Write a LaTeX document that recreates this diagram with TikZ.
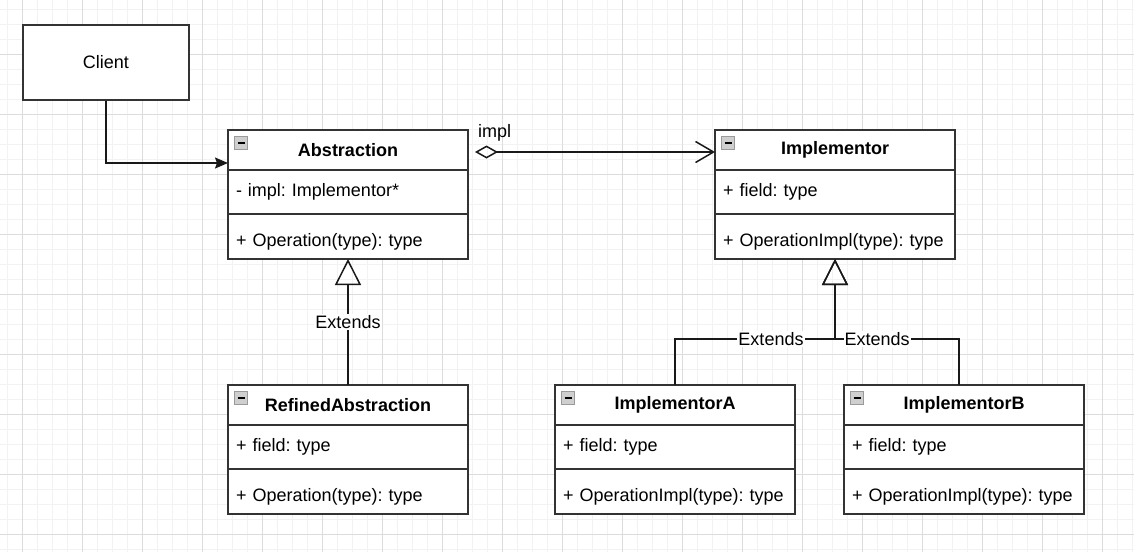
\documentclass[tikz,border=0pt]{standalone}
\usepackage{fontspec}
\setmainfont{Liberation Sans}
\usetikzlibrary{arrows.meta,positioning}
\definecolor{boxline}{HTML}{333333}
\definecolor{gridmajor}{HTML}{DCDCDC}
\definecolor{gridminor}{HTML}{F2F2F2}
\definecolor{iconfill}{HTML}{CFCFCF}
\definecolor{iconline}{HTML}{9A9A9A}
\frenchspacing

\begin{document}
\begin{tikzpicture}[x=1pt,y=-1pt,
  every node/.style={font=\fontsize{18}{22}\selectfont},
  umlhead/.style={draw=boxline,line width=1.5pt,fill=white,minimum width=240pt,minimum height=40pt,
    inner sep=0pt,outer sep=0pt,font=\fontsize{18}{22}\selectfont\bfseries},
  umlpart/.style={draw=boxline,line width=1.5pt,fill=white,text width=224pt,inner xsep=8pt,
    inner ysep=0pt,outer sep=0pt,align=left,minimum height=44pt,text height=13pt,text depth=4pt},
  umlops/.style={umlpart,minimum height=45pt,text height=23pt},
  umlicon/.style={draw=iconline,fill=iconfill,line width=0.8pt,minimum size=13pt,inner sep=0pt,
    path picture={\draw[black,line width=1.6pt] ([xshift=3pt]path picture bounding box.west)
      -- ([xshift=-3pt]path picture bounding box.east);}},
  conn/.style={draw=black!90,line width=1.5pt},
  extends/.style={conn,-{Triangle[open,length=26pt,width=26pt]}},
  lbl/.style={fill=white,inner sep=1pt}]
\useasboundingbox (0,0) rectangle (1134,552);
\fill[white] (0,0) rectangle (1134,552);
\foreach \gx in {7.5,22.5,...,1134} {\draw[gridminor,line width=1pt] (\gx,0) -- (\gx,552);}
\foreach \gy in {9.5,24.5,...,552} {\draw[gridminor,line width=1pt] (0,\gy) -- (1134,\gy);}
\foreach \gx in {22.5,82.5,...,1134} {\draw[gridmajor,line width=1pt] (\gx,0) -- (\gx,552);}
\foreach \gy in {54.5,114.5,...,552} {\draw[gridmajor,line width=1pt] (0,\gy) -- (1134,\gy);}

\node (client) at (106,62.5) [draw=boxline,line width=1.5pt,fill=white,minimum width=166pt,minimum height=75pt] {Client};

\foreach \nm/\x/\y/\ttl/\fld/\op in {
  abs/228/130/Abstraction/- impl: Implementor*/+ Operation(type): type,
  impl/715/130/Implementor/+ field: type/+ OperationImpl(type): type,
  ref/228/385/RefinedAbstraction/+ field: type/+ Operation(type): type,
  impla/555/385/ImplementorA/+ field: type/+ OperationImpl(type): type,
  implb/844/385/ImplementorB/+ field: type/+ OperationImpl(type): type} {
\node (\nm-h) at (\x,\y) [umlhead,anchor=north west] {\ttl};
\node (\nm-f) [umlpart,below=0pt of \nm-h] {\fld};
\node (\nm-o) [umlops,below=0pt of \nm-f] {\op};
\node (\nm-icon) at ([xshift=13pt,yshift=-13pt]\nm-h.north west) [umlicon] {};
}

\coordinate (abs-in) at ([yshift=-13pt]abs-h.west);
\coordinate (impl-split) at ([yshift=-80pt]impl-o.south);

\draw[conn,-{Stealth[length=13pt,width=11pt,inset=2pt]}] (client.south) |- (abs-in);
\draw[conn,{Diamond[open,length=23pt,width=13pt]}-{Straight Barb[length=18pt,width=21pt]},shorten <=7pt]
  ([yshift=-2pt]abs-h.east) -- ([yshift=-2pt]impl-h.west);
\node (impl-lbl) at ([xshift=10pt,yshift=13pt]abs-h.east) [anchor=base west,inner sep=0pt] {impl};

\draw[extends] (ref-h.north) -- node[lbl] (ref-lbl) {Extends} (abs-o.south);
\draw[extends] (impla-h.north) |- node[lbl,pos=0.8] (impla-lbl) {Extends} (impl-split) -- (impl-o.south);
\draw[extends] ([xshift=-5pt]implb-h.north) |- node[lbl,pos=0.83] (implb-lbl) {Extends} (impl-split) -- (impl-o.south);
\end{tikzpicture}
\end{document}
